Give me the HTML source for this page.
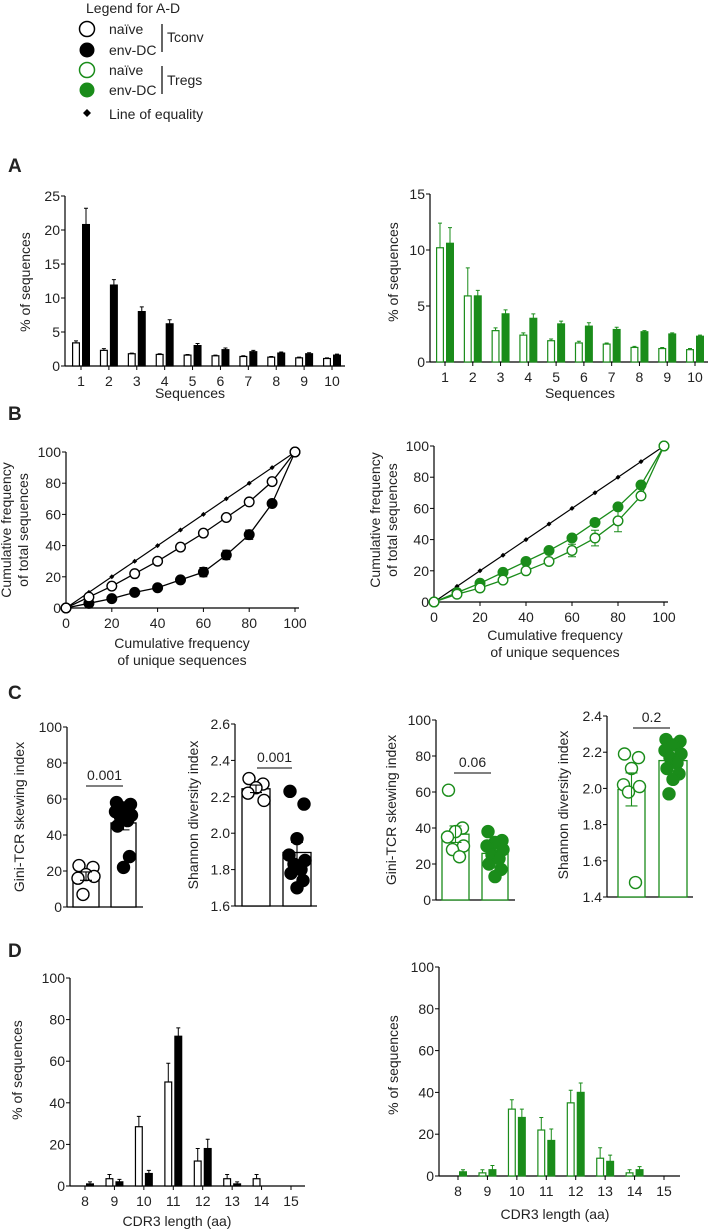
<!DOCTYPE html>
<html><head><meta charset="utf-8"><style>
html,body{margin:0;padding:0;background:#fff;}
svg{display:block;font-family:"Liberation Sans",sans-serif;}
text{fill:#222;}
</style></head><body>
<svg id="fig" width="709" height="1230" viewBox="0 0 709 1230">
<g>
<text x="86" y="13" font-size="14">Legend for A-D</text>
<circle cx="87" cy="29" r="7.5" fill="#fff" stroke="#000" stroke-width="1.5"/>
<text x="109" y="34" font-size="14">naïve</text>
<circle cx="87" cy="50" r="7.5" fill="#000"/>
<text x="109" y="55" font-size="14">env-DC</text>
<circle cx="87" cy="70" r="7.5" fill="#fff" stroke="#1a8c1a" stroke-width="1.5"/>
<text x="109" y="75" font-size="14">naïve</text>
<circle cx="87" cy="90" r="7.5" fill="#1a8c1a"/>
<text x="109" y="95" font-size="14">env-DC</text>
<line x1="162" y1="24" x2="162" y2="52" stroke="#000" stroke-width="1.2"/>
<text x="167" y="42" font-size="14">Tconv</text>
<line x1="162" y1="66" x2="162" y2="94" stroke="#000" stroke-width="1.2"/>
<text x="167" y="85" font-size="14">Tregs</text>
<path d="M87 109 L91 113 L87 117 L83 113 Z" fill="#000"/>
<text x="109" y="119" font-size="14">Line of equality</text>
</g>
<text x="8" y="172" font-size="19" font-weight="bold">A</text>
<text x="8" y="420" font-size="19" font-weight="bold">B</text>
<text x="8" y="699" font-size="19" font-weight="bold">C</text>
<text x="8" y="957" font-size="19" font-weight="bold">D</text>
</svg>
<script>
// ---------- DATA ----------
const seqCats = ["1","2","3","4","5","6","7","8","9","10"];
const aTconvNaive = [3.4,2.3,1.8,1.7,1.6,1.5,1.4,1.3,1.2,1.1];
const aTconvNaiveErr = [0.3,0.25,0.1,0.1,0.1,0.1,0.1,0.1,0.1,0.1];
const aTconvEnv = [20.8,11.9,8.0,6.2,3.0,2.4,2.1,1.9,1.8,1.6];
const aTconvEnvErr = [2.4,0.8,0.7,0.6,0.3,0.25,0.2,0.15,0.15,0.15];
const aTconvTicks = [0,5,10,15,20,25];
const aTregNaive = [10.2,5.9,2.8,2.4,1.9,1.7,1.6,1.3,1.2,1.1];
const aTregNaiveErr = [2.2,2.5,0.25,0.2,0.15,0.15,0.1,0.1,0.1,0.1];
const aTregEnv = [10.6,5.9,4.3,3.9,3.4,3.2,2.9,2.7,2.5,2.3];
const aTregEnvErr = [1.4,0.5,0.35,0.4,0.25,0.3,0.2,0.1,0.1,0.1];
const aTregTicks = [0,5,10,15];

const bX = [0,10,20,30,40,50,60,70,80,90,100];
const bEquality = [0,10,20,30,40,50,60,70,80,90,100];
const bTconvNaive = [0,7,14,22,30,39,48,58,68,81,100];
const bTconvEnv = [0,3,6,10,13,18,23,34,47,67,100];
const bTconvEnvErr = [0,0,1,1,1,1.5,3,3,3,1.5,0];
const bTregNaive = [0,5,9,14,20,26,33,41,52,68,100];
const bTregNaiveErr = [0,0,0,0,1,2,4,5,7,2,0];
const bTregEnv = [0,6,12,19,26,33,41,51,61,75,100];
const bTregEnvErr = [0,0,0,0,1,1,1,1,2,2,0];
const bTicks = [0,20,40,60,80,100];

const cGiniTconvNaive = [23,22,18,16,17,7];
const cGiniTconvEnv = [58,57,55,53,51,50,48,45,28,22];
const cShannonTconvNaive = [2.30,2.27,2.25,2.22,2.18];
const cShannonTconvEnv = [2.23,2.16,1.97,1.88,1.85,1.83,1.80,1.78,1.74,1.70];
const cGiniTregNaive = [61,40,38,35,30,28,24];
const cGiniTregEnv = [38,33,32,30,28,25,23,20,17,13];
const cShannonTregNaive = [2.19,2.17,2.11,2.02,2.01,1.98,1.48];
const cShannonTregEnv = [2.27,2.26,2.24,2.21,2.19,2.17,2.14,2.11,2.08,2.05,1.97];
const cGiniTicks = [0,20,40,60,80,100];
const cShannonTconvTicks = [1.6,1.8,2.0,2.2,2.4,2.6];
const cShannonTregTicks = [1.4,1.6,1.8,2.0,2.2,2.4];
const cPValues = ["0.001","0.001","0.06","0.2"];

const cdrCats = ["8","9","10","11","12","13","14","15"];
const dTconvNaive = [0,3.5,28.5,50,12,3.5,3.5,0];
const dTconvNaiveErr = [0,2,5,9,6,2,2,0];
const dTconvEnv = [1,2,6,72,18,1,0,0];
const dTconvEnvErr = [1,1.2,1.5,4,4.5,1,0,0];
const dTregNaive = [0,1.5,32,22,35,8.5,1.5,0];
const dTregNaiveErr = [0,1.5,4.5,6,6,5,1.5,0];
const dTregEnv = [2,3,28,17,40,7,3,0];
const dTregEnvErr = [1,2,4,5.5,4.5,3,1.5,0];
const dTicks = [0,20,40,60,80,100];

// ---------- HELPERS ----------
const NS = "http://www.w3.org/2000/svg";
const svg = document.getElementById("fig");
const GREEN = "#1a8c1a";
function mk(tag, attrs, parent) {
  const el = document.createElementNS(NS, tag);
  for (const k in attrs) el.setAttribute(k, attrs[k]);
  (parent || svg).appendChild(el);
  return el;
}
function txt(parent, x, y, s, size, anchor, rot) {
  const t = mk("text", {x: x, y: y, "font-size": size, "text-anchor": anchor || "middle"}, parent);
  if (rot) t.setAttribute("transform", "rotate(-90 " + x + " " + y + ")");
  t.textContent = s;
  return t;
}
function linScale(d0, d1, r0, r1) { return v => r0 + (v - d0) * (r1 - r0) / (d1 - d0); }

function yAxis(g, ax, y, ticks, x1, fmt) {
  const axl = mk("line", {x1: ax, y1: y(ticks[ticks.length-1]), x2: ax, y2: y(ticks[0]), stroke: "#000", "stroke-width": 1.2}, g);
  
  
  const xl = mk("line", {x1: ax, y1: y(ticks[0]), x2: x1, y2: y(ticks[0]), stroke: "#000", "stroke-width": 1.2}, g);
  
  
  ticks.forEach(t => {
    const tk = mk("line", {x1: ax - 4, y1: y(t), x2: ax, y2: y(t), stroke: "#000", "stroke-width": 1}, g);
    
    
    const tl = txt(g, ax - 5, y(t) + 5, fmt ? fmt(t) : String(t), 14, "end");
    
    
  });
}

function barChart(cfg) {
  const g = mk("g", {}, svg);
  
  
  const y = linScale(0, cfg.max, cfg.y0, cfg.yTop);
  const n = cfg.cats.length;
  const cx = i => cfg.c0 + i * (cfg.c1 - cfg.c0) / (n - 1);
  yAxis(g, cfg.ax, y, cfg.ticks, cfg.axEnd);
  cfg.cats.forEach((c, i) => {
    const tk = mk("line", {x1: cx(i), y1: cfg.y0, x2: cx(i), y2: cfg.y0 + 4, stroke: "#000", "stroke-width": 1}, g);
    
    
    const tl = txt(g, cx(i), cfg.y0 + 20, c, 14, "middle");
    
    
  });
  const series = [
    {v: cfg.s1, e: cfg.e1, fill: "#fff", stroke: cfg.color, off: -cfg.bw - 1, nm: "bar-naive"},
    {v: cfg.s2, e: cfg.e2, fill: cfg.color, stroke: cfg.color, off: 1, nm: "bar-env-dc"}
  ];
  series.forEach(s => {
    s.v.forEach((v, i) => {
      if (v <= 0) return;
      const x = cx(i) + s.off;
      const top = y(v);
      if (s.e[i] > 0) {
        const et = y(v + s.e[i]);
        const el = mk("path", {d: "M" + (x + cfg.bw/2) + " " + top + "V" + et + "M" + (x + cfg.bw/2 - 2) + " " + et + "H" + (x + cfg.bw/2 + 2), stroke: cfg.color, "stroke-width": 1, fill: "none"}, g);
        
        
      }
      const b = mk("rect", {x: x + 0.6, y: top, width: cfg.bw - 1.2, height: Math.max(cfg.y0 - top, 0.5), fill: s.fill, stroke: s.stroke, "stroke-width": 1.2}, g);
      
      
    });
  });
  const xt = txt(g, cfg.xtX, cfg.xtY, cfg.xTitle, 14, "middle");
  
  
  const yt = txt(g, cfg.ytX, cfg.ytY, "% of sequences", 14, "middle", true);
  
  
}

function lineChart(cfg) {
  const g = mk("g", {}, svg);
  
  
  const x = linScale(0, 100, cfg.ax, cfg.xEnd);
  const y = linScale(0, 100, cfg.y0, cfg.yTop);
  yAxis(g, cfg.ax, y, bTicks, cfg.xEnd + 4);
  bTicks.forEach(t => {
    const tk = mk("line", {x1: x(t), y1: cfg.y0, x2: x(t), y2: cfg.y0 + 4, stroke: "#000", "stroke-width": 1}, g);
    
    
    const tl = txt(g, x(t), cfg.y0 + 20, String(t), 14, "middle");
    
    
  });
  const eq = mk("polyline", {points: bX.map((v, i) => x(v) + "," + y(bEquality[i])).join(" "), fill: "none", stroke: "#000", "stroke-width": 1.2}, g);
  
  
  bX.forEach((v, i) => {
    const d = mk("path", {d: "M" + x(v) + " " + (y(bEquality[i]) - 2.5) + "l2.5 2.5l-2.5 2.5l-2.5 -2.5z", fill: "#000"}, g);
    
    
  });
  [{v: cfg.s2, e: cfg.e2, fill: cfg.color, nm: "env-dc"}, {v: cfg.s1, e: cfg.e1, fill: "#fff", nm: "naive"}].forEach(s => {
    const pl = mk("polyline", {points: bX.map((v, i) => x(v) + "," + y(s.v[i])).join(" "), fill: "none", stroke: cfg.color, "stroke-width": 1.3}, g);
    
    
    bX.forEach((v, i) => {
      if (s.e[i] > 1) {
        const eb = mk("path", {d: "M" + x(v) + " " + y(s.v[i] - s.e[i]) + "V" + y(s.v[i] + s.e[i]) + "M" + (x(v)-4) + " " + y(s.v[i] - s.e[i]) + "h8M" + (x(v)-4) + " " + y(s.v[i] + s.e[i]) + "h8", stroke: cfg.color, "stroke-width": 1, fill: "none"}, g);
        
        
      }
      const c = mk("circle", {cx: x(v), cy: y(s.v[i]), r: 4.8, fill: s.fill, stroke: cfg.color, "stroke-width": 1.4}, g);
      
      
    });
  });
  const t1 = txt(g, cfg.xtX, cfg.xtY, "Cumulative frequency", 14, "middle");
  
  
  const t2 = txt(g, cfg.xtX, cfg.xtY + 17, "of unique sequences", 14, "middle");
  
  
  const y1 = txt(g, cfg.ytX, cfg.ytY, "Cumulative frequency", 14, "middle", true);
  
  
  const y2 = txt(g, cfg.ytX + 17, cfg.ytY, "of total sequences", 14, "middle", true);
  
  
}

function mean(a) { return a.reduce((p, c) => p + c, 0) / a.length; }
function sem(a) { const m = mean(a); return Math.sqrt(a.reduce((p, c) => p + (c - m) * (c - m), 0) / (a.length - 1)) / Math.sqrt(a.length); }

function scatterBar(cfg) {
  const g = mk("g", {}, svg);
  
  
  const lo = cfg.ticks[0], hi = cfg.ticks[cfg.ticks.length - 1];
  const y = linScale(lo, hi, cfg.y0, cfg.yTop);
  yAxis(g, cfg.ax, y, cfg.ticks, cfg.axEnd, cfg.fmt);
  [{v: cfg.s1, x0: cfg.b1[0], x1: cfg.b1[1], fill: "#fff", nm: "naive"}, {v: cfg.s2, x0: cfg.b2[0], x1: cfg.b2[1], fill: cfg.color, nm: "env-dc"}].forEach(s => {
    const m = mean(s.v), e = sem(s.v);
    const b = mk("rect", {x: s.x0, y: y(m), width: s.x1 - s.x0, height: cfg.y0 - y(m), fill: "#fff", stroke: cfg.color, "stroke-width": 1.3}, g);
    
    
    const c = (s.x0 + s.x1) / 2;
    const offs = [-7, 7, 0, -8, 8, -3, 4, -6, 6, 0, -4];
    s.v.forEach((v, i) => {
      const p = mk("circle", {cx: c + offs[i % offs.length], cy: y(v), r: 6, fill: s.fill, stroke: cfg.color, "stroke-width": 1.4}, g);
      
      
    });
    const eb = mk("path", {d: "M" + c + " " + y(m - e) + "V" + y(m + e) + "M" + (c-6) + " " + y(m + e) + "h12M" + (c-6) + " " + y(m - e) + "h12", stroke: cfg.color, "stroke-width": 1.1, fill: "none"}, g);
    
    
  });
  const pl = mk("line", {x1: cfg.pl[0], y1: cfg.pY, x2: cfg.pl[1], y2: cfg.pY, stroke: "#000", "stroke-width": 1}, g);
  
  
  const pt = txt(g, (cfg.pl[0] + cfg.pl[1]) / 2, cfg.pY - 6, cfg.p, 14, "middle");
  
  
  const yt = txt(g, cfg.ytX, cfg.ytY, cfg.yTitle, 14, "middle", true);
  
  
}

// ---------- PANEL A ----------
barChart({name: "chart-a-tconv", cats: seqCats, s1: aTconvNaive, e1: aTconvNaiveErr, s2: aTconvEnv, e2: aTconvEnvErr, ticks: aTconvTicks, max: 25, y0: 366, yTop: 196, ax: 65, axEnd: 345, c0: 81, c1: 332, bw: 8, color: "#000", xTitle: "Sequences", xtX: 190, xtY: 398, ytX: 30, ytY: 282});
barChart({name: "chart-a-tregs", cats: seqCats, s1: aTregNaive, e1: aTregNaiveErr, s2: aTregEnv, e2: aTregEnvErr, ticks: aTregTicks, max: 15, y0: 362, yTop: 194, ax: 430, axEnd: 708, c0: 445, c1: 695, bw: 8, color: GREEN, xTitle: "Sequences", xtX: 580, xtY: 398, ytX: 398, ytY: 272});

// ---------- PANEL B ----------
lineChart({name: "chart-b-tconv", ax: 66, xEnd: 295, y0: 608, yTop: 452, s1: bTconvNaive, e1: [0,0,0,0,0,0,0,0,0,0,0], s2: bTconvEnv, e2: bTconvEnvErr, color: "#000", xtX: 182, xtY: 648, ytX: 11, ytY: 530});
lineChart({name: "chart-b-tregs", ax: 434, xEnd: 664, y0: 602, yTop: 446, s1: bTregNaive, e1: bTregNaiveErr, s2: bTregEnv, e2: bTregEnvErr, color: GREEN, xtX: 555, xtY: 640, ytX: 380, ytY: 520});

// ---------- PANEL C ----------
scatterBar({name: "chart-c-gini-tconv", s1: cGiniTconvNaive, s2: cGiniTconvEnv, ticks: cGiniTicks, y0: 907, yTop: 727, ax: 67, axEnd: 143, b1: [73, 99], b2: [111, 136], color: "#000", p: cPValues[0], pl: [86, 123], pY: 786, ytX: 24, ytY: 817, yTitle: "Gini-TCR skewing index"});
scatterBar({name: "chart-c-shannon-tconv", s1: cShannonTconvNaive, s2: cShannonTconvEnv, ticks: cShannonTconvTicks, fmt: v => v.toFixed(1), y0: 906, yTop: 724, ax: 235, axEnd: 317, b1: [242, 270], b2: [283, 311], color: "#000", p: cPValues[1], pl: [257, 292], pY: 768, ytX: 198, ytY: 815, yTitle: "Shannon diversity index"});
scatterBar({name: "chart-c-gini-tregs", s1: cGiniTregNaive, s2: cGiniTregEnv, ticks: cGiniTicks, y0: 900, yTop: 720, ax: 436, axEnd: 515, b1: [442, 469], b2: [482, 508], color: GREEN, p: cPValues[2], pl: [454, 491], pY: 773, ytX: 396, ytY: 810, yTitle: "Gini-TCR skewing index"});
scatterBar({name: "chart-c-shannon-tregs", s1: cShannonTregNaive, s2: cShannonTregEnv, ticks: cShannonTregTicks, fmt: v => v.toFixed(1), y0: 897, yTop: 716, ax: 607, axEnd: 693, b1: [618, 645], b2: [659, 687], color: GREEN, p: cPValues[3], pl: [633, 670], pY: 728, ytX: 568, ytY: 805, yTitle: "Shannon diversity index"});

// ---------- PANEL D ----------
barChart({name: "chart-d-tconv", cats: cdrCats, s1: dTconvNaive, e1: dTconvNaiveErr, s2: dTconvEnv, e2: dTconvEnvErr, ticks: dTicks, max: 100, y0: 1186, yTop: 978, ax: 70, axEnd: 305, c0: 85, c1: 291, bw: 8, color: "#000", xTitle: "CDR3 length (aa)", xtX: 177, xtY: 1226, ytX: 22, ytY: 1070});
barChart({name: "chart-d-tregs", cats: cdrCats, s1: dTregNaive, e1: dTregNaiveErr, s2: dTregEnv, e2: dTregEnvErr, ticks: dTicks, max: 100, y0: 1176, yTop: 967, ax: 439, axEnd: 680, c0: 458, c1: 664, bw: 8, color: GREEN, xTitle: "CDR3 length (aa)", xtX: 555, xtY: 1219, ytX: 398, ytY: 1065});
</script>
</body></html>
